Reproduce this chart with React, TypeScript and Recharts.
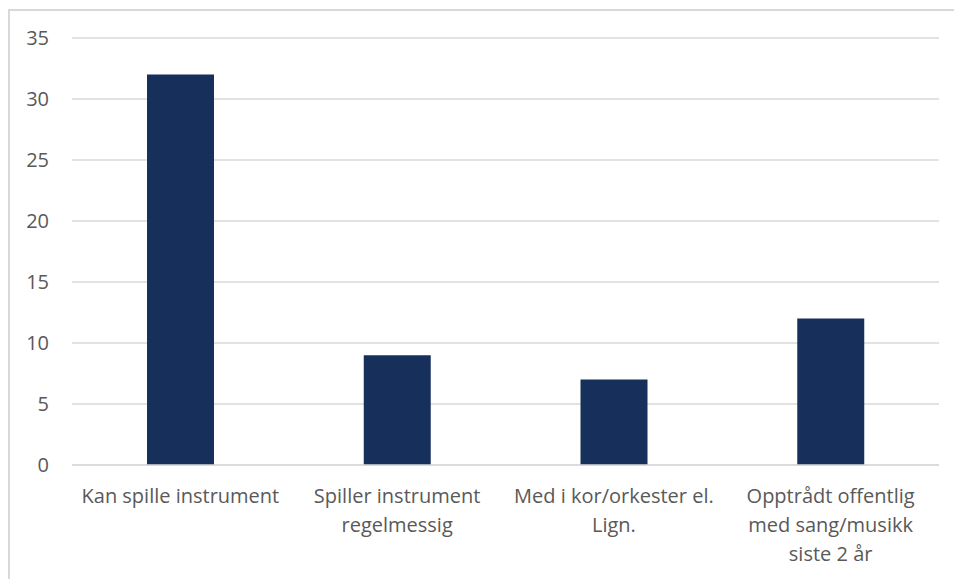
import { BarChart, Bar, XAxis, YAxis, CartesianGrid } from 'recharts';

const categories = [
    'Kan spille instrument',
    'Spiller instrument\nregelmessig',
    'Med i kor/orkester el.\nLign.',
    'Opptrådt offentlig\nmed sang/musikk\nsiste 2 år',
];
const values = [32, 9, 7, 12];
const yTicks = [0, 5, 10, 15, 20, 25, 30, 35];

const data = categories.map((name, i) => ({ name, value: values[i] }));

const FONT = '"Open Sans", sans-serif';
const TEXT = '#595959';

function CategoryTick(props: any) {
    const { x, y, payload } = props;
    const lines = String(payload.value).split('\n');
    return (
        <text x={x} y={y} textAnchor="middle" fill={TEXT} fontSize={20} fontFamily={FONT}>
            {lines.map((line, i) => (
                <tspan key={i} x={x} dy={i === 0 ? 30 : 29}>{line}</tspan>
            ))}
        </text>
    );
}

export default function App() {
    return (
        <div style={{ position: 'absolute', left: 0, top: 0, width: 954, height: 579, background: '#fff' }}>
            <div style={{ position: 'absolute', left: 8, top: 9, width: 960, height: 600, border: '2px solid #d9d9d9', boxSizing: 'border-box' }} />
            <BarChart
                width={954}
                height={579}
                data={data}
                margin={{ top: 38, right: 15, left: 12, bottom: 0 }}
                style={{ position: 'absolute', left: 0, top: 0 }}
            >
                <CartesianGrid vertical={false} stroke="#d9d9d9" strokeWidth={1.5} />
                <XAxis
                    dataKey="name"
                    interval={0}
                    height={114}
                    axisLine={{ stroke: '#d9d9d9', strokeWidth: 1.5 }}
                    tickLine={false}
                    tick={<CategoryTick />}
                />
                <YAxis
                    domain={[0, 35]}
                    ticks={yTicks}
                    width={60}
                    axisLine={false}
                    tickLine={false}
                    tickSize={0}
                    tickMargin={23}
                    tick={{ fill: TEXT, fontSize: 20, fontFamily: FONT }}
                />
                <Bar dataKey="value" fill="#172f5b" barSize={67} isAnimationActive={false} />
            </BarChart>
        </div>
    );
}
